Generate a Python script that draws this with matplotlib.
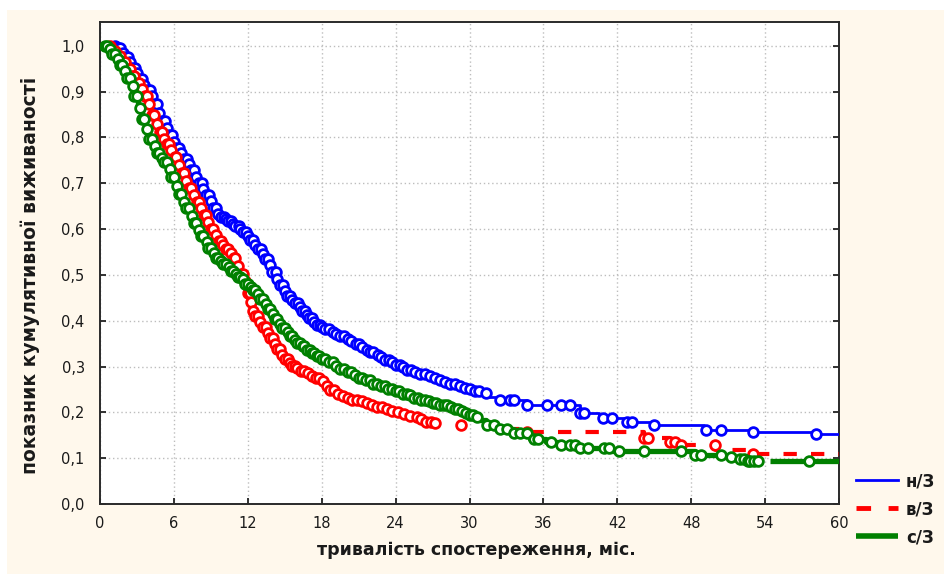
import numpy as np
import matplotlib
matplotlib.use('Agg')
import matplotlib.pyplot as plt
from matplotlib.patches import Rectangle
from matplotlib.lines import Line2D

nan = np.nan

group_labels = ['н/З', 'в/З', 'с/З']

# --- н/З (blue): step curve (time, survival) and censored times
blue_t = [0.3, 1.3, 1.7, 2.0, 2.3, 2.6, 2.9, 3.2, 3.5, 3.8, 4.1, 4.4, 4.7, 5.0, 5.3, 5.6, 5.9, 6.2, 6.5, 6.8,
          7.1, 7.4, 7.7, 8.0, 8.3, 8.6, 8.9, 9.2, 9.5, 9.8, 10.1, 10.4, 10.7, 11.0, 11.3, 11.6, 11.9, 12.2, 12.5, 12.8,
          13.1, 13.4, 13.7, 14.0, 14.3, 14.6, 14.9, 15.2, 15.5, 15.8, 16.1, 16.4, 16.7, 17.0, 17.3, 17.6, 17.9, 18.3, 18.7, 19.1,
          19.5, 19.9, 20.3, 20.7, 21.1, 21.5, 21.9, 22.3, 22.7, 23.1, 23.5, 23.9, 24.4, 24.9, 25.4, 25.9, 26.4, 26.9, 27.4, 27.9,
          28.4, 28.9, 29.4, 29.9, 30.4, 30.9, 31.5, 32.2, 34.7, 39.0, 40.5, 42.8, 45.0, 49.0, 53.0, 58.1, 60.0]
blue_s = [1.0, 0.995, 0.985, 0.975, 0.965, 0.952, 0.94, 0.928, 0.915, 0.903, 0.89, 0.872, 0.853, 0.835, 0.82, 0.805, 0.79, 0.778, 0.766, 0.754,
          0.741, 0.728, 0.714, 0.70, 0.688, 0.675, 0.661, 0.646, 0.633, 0.626, 0.621, 0.617, 0.612, 0.606, 0.600, 0.593, 0.585, 0.576, 0.566, 0.557,
          0.546, 0.535, 0.521, 0.506, 0.492, 0.477, 0.464, 0.454, 0.446, 0.438, 0.43, 0.421, 0.413, 0.405, 0.397, 0.391, 0.386, 0.381, 0.376, 0.371,
          0.366, 0.361, 0.355, 0.349, 0.343, 0.337, 0.331, 0.326, 0.321, 0.315, 0.309, 0.304, 0.299, 0.293, 0.288, 0.284, 0.279, 0.274, 0.270, 0.266,
          0.262, 0.258, 0.254, 0.25, 0.246, 0.242, 0.234, 0.227, 0.216, 0.198, 0.187, 0.178, 0.172, 0.162, 0.157, 0.153, 0.153]
blue_cens = [1.2, 1.45, 1.6, 1.85, 2.0, 2.25, 2.4, 2.6, 2.85, 3.0, 3.2, 3.45, 3.6, 3.8, 4.05, 4.2, 4.4, 4.65, 4.8, 5.0,
             5.25, 5.4, 5.6, 5.85, 6.0, 6.2, 6.45, 6.6, 6.8, 7.05, 7.2, 7.4, 7.65, 7.8, 8.0, 8.25, 8.4, 8.6, 8.85, 9.0,
             9.2, 9.45, 9.6, 9.8, 10.05, 10.2, 10.4, 10.65, 10.8, 11.0, 11.25, 11.4, 11.6, 11.85, 12.0, 12.2, 12.45, 12.6, 12.8, 13.05,
             13.2, 13.4, 13.65, 13.8, 14.0, 14.25, 14.4, 14.6, 14.85, 15.0, 15.2, 15.45, 15.6, 15.8, 16.05, 16.2, 16.4, 16.65, 16.8, 17.0,
             17.25, 17.4, 17.6, 17.85, 18.0, 18.3, 18.6, 18.95, 19.2, 19.5, 19.85, 20.1, 20.4, 20.75, 21.0, 21.3, 21.65, 21.9, 22.2, 22.55,
             22.8, 23.1, 23.45, 23.7, 24.0, 24.35, 24.6, 24.9, 25.25, 25.6, 26.0, 26.35, 26.8, 27.2, 27.6, 28.05, 28.4, 28.8, 29.25, 29.6,
             30.0, 30.45, 30.8, 31.3,
             32.5, 33.3, 33.6, 34.7, 36.3, 37.4, 38.2, 39.0, 39.3, 40.8, 41.6, 42.8, 43.2, 45.0, 49.2, 50.4, 53.0, 58.1]

# --- в/З (red)
red_t = [0.5, 1.0, 1.4, 1.8, 2.2, 2.6, 3.0, 3.3, 3.6, 3.9, 4.2, 4.5, 4.8, 5.1, 5.4, 5.7, 6.0, 6.3, 6.6, 6.9,
         7.2, 7.5, 7.8, 8.1, 8.4, 8.7, 9.0, 9.3, 9.6, 9.9, 10.2, 10.5, 10.8, 11.1, 11.4, 11.7, 12.0, 12.2, 12.4, 12.6,
         12.9, 13.2, 13.5, 13.8, 14.1, 14.4, 14.7, 15.0, 15.3, 15.6, 15.9, 16.3, 16.7, 17.1, 17.5, 17.9, 18.3, 18.7, 19.1, 19.5,
         20.0, 20.5, 21.0, 21.5, 22.0, 22.5, 23.0, 23.5, 24.0, 24.5, 25.0, 25.5, 26.0, 26.5, 27.0, 27.4, 29.0, 29.6, 33.0, 34.7,
         44.2, 46.3, 47.2, 50.0, 53.0, 60.0]
red_s = [1.0, 0.988, 0.977, 0.965, 0.95, 0.934, 0.918, 0.905, 0.89, 0.872, 0.85, 0.83, 0.812, 0.797, 0.785, 0.773, 0.758, 0.74, 0.722, 0.705,
         0.69, 0.675, 0.66, 0.645, 0.63, 0.615, 0.60, 0.587, 0.575, 0.565, 0.557, 0.548, 0.536, 0.52, 0.503, 0.487, 0.46, 0.44, 0.422, 0.41,
         0.398, 0.386, 0.374, 0.362, 0.35, 0.338, 0.326, 0.316, 0.308, 0.302, 0.297, 0.291, 0.286, 0.28, 0.275, 0.268, 0.258, 0.248, 0.241, 0.236,
         0.232, 0.228, 0.225, 0.221, 0.217, 0.212, 0.207, 0.203, 0.2, 0.197, 0.193, 0.19, 0.185, 0.18, 0.177, nan, 0.172, nan, 0.164, 0.157,
         0.143, 0.135, 0.129, 0.117, 0.109, 0.109]
red_cens = [0.8, 1.0, 1.25, 1.4, 1.6, 1.85, 2.0, 2.2, 2.45, 2.6, 2.8, 3.05, 3.2, 3.4, 3.65, 3.8, 4.0, 4.25, 4.4, 4.6,
            4.85, 5.0, 5.2, 5.45, 5.6, 5.8, 6.05, 6.2, 6.4, 6.65, 6.8, 7.0, 7.25, 7.4, 7.6, 7.85, 8.0, 8.2, 8.45, 8.6,
            8.8, 9.05, 9.2, 9.4, 9.65, 9.8, 10.0, 10.25, 10.4, 10.6, 10.85, 11.0, 11.2, 11.45, 11.6, 11.8, 12.0, 12.15, 12.3, 12.45,
            12.6, 12.8, 13.0, 13.2, 13.45, 13.6, 13.8, 14.05, 14.2, 14.4, 14.65, 14.8, 15.0, 15.25, 15.4, 15.6, 15.85, 16.0, 16.3, 16.6,
            16.9, 17.2, 17.5, 17.8, 18.1, 18.4, 18.7, 19.0, 19.3, 19.7, 20.1, 20.5, 20.9, 21.3, 21.7, 22.1, 22.5, 22.9, 23.3, 23.7,
            24.2, 24.7, 25.2, 25.7, 26.1, 26.5, 26.9, 27.2,
            29.3, 34.7, 44.2, 44.5, 46.3, 46.7, 47.2, 49.9, 53.0]

# --- с/З (green)
green_t = [0.3, 0.7, 1.0, 1.3, 1.6, 1.9, 2.2, 2.5, 2.8, 3.1, 3.4, 3.7, 4.0, 4.3, 4.6, 4.9, 5.2, 5.5, 5.8, 6.1,
           6.4, 6.7, 7.0, 7.3, 7.6, 7.9, 8.2, 8.5, 8.8, 9.1, 9.4, 9.7, 10.0, 10.3, 10.6, 10.9, 11.2, 11.5, 11.8, 12.1,
           12.4, 12.7, 13.0, 13.3, 13.6, 13.9, 14.2, 14.5, 14.8, 15.1, 15.4, 15.7, 16.0, 16.4, 16.8, 17.2, 17.6, 18.0, 18.5, 19.0,
           19.5, 20.0, 20.5, 21.0, 21.6, 22.2, 22.8, 23.4, 24.0, 24.5, 25.0, 25.5, 26.0, 26.5, 27.0, 27.6, 28.3, 28.8, 29.2, 29.6,
           30.0, 30.4, 30.8, 31.3, 32.2, 33.5, 34.9, 36.2, 37.3, 38.9, 41.5, 48.3, 50.5, 51.5, 52.5, 53.5, 54.4, 60.0]
green_s = [1.0, 0.992, 0.982, 0.971, 0.959, 0.946, 0.93, 0.912, 0.89, 0.864, 0.84, 0.818, 0.797, 0.781, 0.767, 0.756, 0.746, 0.731, 0.713, 0.695,
           0.676, 0.66, 0.645, 0.629, 0.613, 0.599, 0.585, 0.572, 0.559, 0.548, 0.538, 0.53, 0.524, 0.517, 0.509, 0.501, 0.496, 0.49, 0.481, 0.474,
           0.467, 0.458, 0.448, 0.437, 0.426, 0.414, 0.403, 0.393, 0.384, 0.375, 0.367, 0.359, 0.352, 0.344, 0.337, 0.33, 0.323, 0.317, 0.31, 0.302,
           0.294, 0.288, 0.282, 0.276, 0.27, 0.263, 0.257, 0.251, 0.246, 0.241, 0.237, 0.232, 0.228, 0.224, 0.22, 0.216, 0.212, 0.207, 0.203, 0.199,
           0.195, 0.189, 0.183, 0.172, 0.164, 0.154, 0.142, 0.136, 0.129, 0.122, 0.116, 0.107, 0.103, 0.098, 0.093, nan, 0.093, 0.093]
green_cens = [0.4, 0.6, 0.85, 1.0, 1.2, 1.45, 1.6, 1.8, 2.05, 2.2, 2.4, 2.65, 2.8, 3.0, 3.25, 3.4, 3.6, 3.85, 4.0, 4.2,
              4.45, 4.6, 4.8, 5.05, 5.2, 5.4, 5.65, 5.8, 6.0, 6.25, 6.4, 6.6, 6.85, 7.0, 7.2, 7.45, 7.6, 7.8, 8.05, 8.2,
              8.4, 8.65, 8.8, 9.0, 9.25, 9.4, 9.6, 9.85, 10.0, 10.2, 10.45, 10.6, 10.8, 11.05, 11.2, 11.4, 11.65, 11.8, 12.0, 12.25,
              12.4, 12.6, 12.85, 13.0, 13.2, 13.45, 13.6, 13.8, 14.05, 14.2, 14.4, 14.65, 14.8, 15.0, 15.25, 15.4, 15.6, 15.85, 16.0, 16.2,
              16.45, 16.6, 16.8, 17.05, 17.2, 17.4, 17.65, 17.8, 18.0, 18.3, 18.6, 18.9, 19.2, 19.5, 19.8, 20.1, 20.4, 20.7, 21.0, 21.3,
              21.6, 21.9, 22.2, 22.5, 22.8, 23.1, 23.4, 23.7, 24.0, 24.3, 24.6, 24.9, 25.2, 25.5, 25.8, 26.1, 26.4, 26.7, 27.0, 27.3,
              27.6, 27.9, 28.2, 28.5, 28.8, 29.1, 29.4, 29.7, 30.0, 30.3, 30.6,
              31.4, 31.97, 32.5, 33.06, 33.6, 34.1, 34.7, 35.2, 35.6, 36.6, 37.4, 38.2, 38.6, 39.0, 39.6, 40.9, 41.3, 42.1, 44.2,
              47.2, 48.3, 48.8, 50.4, 51.2, 52.0, 52.3, 52.6, 52.8, 53.1, 53.4, 57.6]

x_ticks = [0, 6, 12, 18, 24, 30, 36, 42, 48, 54, 60]
y_ticks = [0.0, 0.1, 0.2, 0.3, 0.4, 0.5, 0.6, 0.7, 0.8, 0.9, 1.0]
y_tick_labels = ['0,0', '0,1', '0,2', '0,3', '0,4', '0,5', '0,6', '0,7', '0,8', '0,9', '1,0']


def step_at(t, times, surv):
    times = np.asarray(times, dtype=float)
    surv = np.asarray(surv, dtype=float)
    idx = np.searchsorted(times, np.asarray(t, dtype=float), side='right') - 1
    return surv[idx]


W, H = 944, 574
fig = plt.figure(figsize=(W / 100, H / 100), dpi=100)
fig.patch.set_facecolor('white')
fig.patches.append(Rectangle((7 / W, 0), 1 - 7 / W, 1 - 10 / H, transform=fig.transFigure,
                             facecolor='#FFF8EC', edgecolor='none', zorder=-10))

ax = fig.add_axes([100 / W, 1 - 504 / H, 739 / W, 482 / H])
ax.set_facecolor('white')
ax.set_xlim(0, 60)
ax.set_ylim(0, 1.052)

ax.grid(True, color='#BDBDBD', linestyle=(0, (1, 2)), linewidth=1.0)
ax.set_axisbelow(True)

series = [
    (blue_t, blue_s, blue_cens, '#0000FF', dict(lw=2.0, ls='-')),
    (red_t, red_s, red_cens, '#FF0000', dict(lw=3.0, ls=(0, (3.2, 3.4)))),
    (green_t, green_s, green_cens, '#008000', dict(lw=3.8, ls='-')),
]
z = 3
for t, s, c, col, st in series:
    ax.step(t, s, where='post', color=col, solid_capstyle='butt', dash_capstyle='butt', zorder=z, **st)
    ax.plot(c, step_at(c, t, s), ls='none', marker='o', ms=7.0, mfc='white', mec=col, mew=2.0, zorder=z + 1)
    z += 2

ax.set_xticks(x_ticks)
ax.set_xticklabels([str(v) for v in x_ticks])
ax.set_yticks(y_ticks)
ax.set_yticklabels(y_tick_labels)
ax.tick_params(direction='in', length=4, width=1.3, color='#222222', right=True, top=False,
               labelsize=10.5, labelcolor='#1a1a1a')
ax.tick_params(axis='x', pad=9)
ax.tick_params(axis='y', pad=11)
for sp in ax.spines.values():
    sp.set_color('#2a2a2a')
    sp.set_linewidth(1.4)

fig.text(476 / W, 1 - 550 / H, 'тривалість спостереження, міс.', ha='center', va='center',
         fontsize=12.5, fontweight='bold', color='#1a1a1a')
fig.text(30 / W, 1 - 275 / H, 'показник кумулятивної виживаності', ha='center', va='center',
         rotation=90, fontsize=13.5, fontweight='bold', color='#1a1a1a')

handles = [
    Line2D([], [], color='#0000FF', lw=2.0),
    Line2D([], [], color='#FF0000', lw=3.5, ls=(0, (3.0, 3.6)), dash_capstyle='butt'),
    Line2D([], [], color='#008000', lw=4.0, solid_capstyle='butt'),
]
leg = ax.legend(handles, group_labels, loc='upper left', bbox_to_anchor=(856 / W, 1 - 472 / H),
                bbox_transform=fig.transFigure, frameon=False, prop={'weight': 'bold', 'size': 12},
                handlelength=2.5, handletextpad=0.5, labelspacing=0.6, borderpad=0, borderaxespad=0)
for txt in leg.get_texts():
    txt.set_color('#1a1a1a')

fig.savefig('out.png', dpi=100)
